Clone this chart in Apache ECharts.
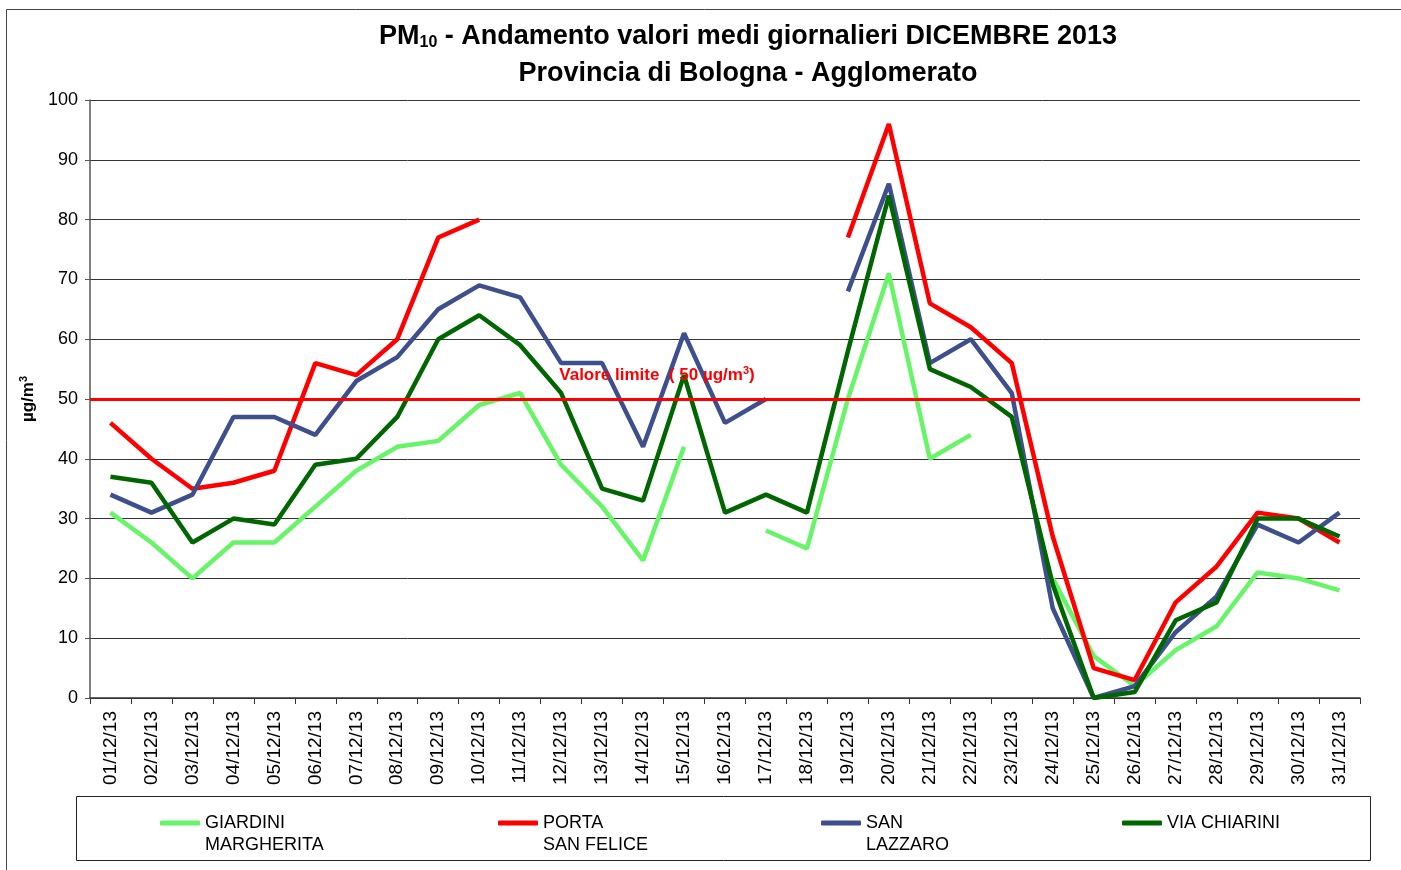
<!DOCTYPE html>
<html>
<head>
<meta charset="utf-8">
<script src="https://cdn.jsdelivr.net/npm/echarts@6/dist/echarts.min.js"></script>
<style>
html,body{margin:0;padding:0;background:#fff;}
#main{width:1401px;height:870px;}
</style>
</head>
<body>
<div id="main"></div>
<script>
var days = ['01/12/13','02/12/13','03/12/13','04/12/13','05/12/13','06/12/13','07/12/13','08/12/13','09/12/13','10/12/13',
    '11/12/13','12/12/13','13/12/13','14/12/13','15/12/13','16/12/13','17/12/13','18/12/13','19/12/13','20/12/13',
    '21/12/13','22/12/13','23/12/13','24/12/13','25/12/13','26/12/13','27/12/13','28/12/13','29/12/13','30/12/13','31/12/13'];
var giardini = [31,26,20,26,26,32,38,42,43,49,51,39,32,23,42,null,28,25,50,71,40,44,null,20,7,2,8,12,21,20,18];
var portaSanFelice = [46,40,35,36,38,56,54,60,77,80,null,null,null,null,null,null,null,null,77,96,66,62,56,27,5,3,16,22,31,30,26];
var sanLazzaro = [34,31,34,47,47,44,53,57,65,69,67,56,56,42,61,46,50,null,68,86,56,60,51,15,0,2,11,17,29,26,31];
var viaChiarini = [37,36,26,30,29,39,40,47,60,64,59,51,35,33,54,31,34,31,58,84,55,52,47,19,0,1,13,16,30,30,27];
var limite = 50;
var yTicks = [0,10,20,30,40,50,60,70,80,90,100];

var myChart = echarts.init(document.getElementById('main'));
var font = 'Liberation Sans, Arial, sans-serif';

function linea(nome, dati, colore){
    return {
        name: nome,
        type: 'line',
        data: dati,
        symbol: 'none',
        connectNulls: false,
        lineStyle: {color: colore, width: 4.5},
        itemStyle: {color: colore}
    };
}

var series = [
    linea('GIARDINI\nMARGHERITA', giardini, '#66f566'),
    linea('PORTA\nSAN FELICE', portaSanFelice, '#ff0000'),
    linea('SAN\nLAZZARO', sanLazzaro, '#3d4f8c'),
    linea('VIA CHIARINI', viaChiarini, '#006600')
];
// linea del valore limite
series[1].markLine = {
    silent: true,
    symbol: 'none',
    lineStyle: {color: '#ff0000', width: 3, type: 'solid'},
    label: {
        position: 'insideMiddleTop',
        offset: [-68, -9],
        formatter: '{t|Valore limite  ( 50 µg/m}{p|3}{t|)}',
        rich: {
            t: {color: '#ff0000', fontWeight: 'bold', fontSize: 17, fontFamily: font},
            p: {color: '#ff0000', fontWeight: 'bold', fontSize: 11, fontFamily: font, padding: [0, 0, 9, 0]}
        }
    },
    data: [{yAxis: limite}]
};

// una legenda per voce, il testo a due righe parte dall'altezza del simbolo
var legendLeft = [155, 493, 816, 1117];
var legends = series.map(function(s, i){
    return {
        left: legendLeft[i],
        top: 785,
        itemWidth: 40,
        itemHeight: 5,
        icon: 'roundRect',
        formatter: function(name){ return name.indexOf('\n') >= 0 ? '\n' + name : name; },
        textStyle: {fontSize: 18, color: '#000', fontFamily: font, lineHeight: 22},
        data: [s.name]
    };
});
legends[3].top = 807;

myChart.setOption({
    animation: false,
    textStyle: {fontFamily: font},
    title: {
        text: '{b|PM}{s|10}{b| - Andamento valori medi giornalieri DICEMBRE 2013}\n{b|Provincia di Bologna - Agglomerato}',
        left: 743,
        top: 13,
        textAlign: 'center',
        textStyle: {
            rich: {
                b: {fontSize: 27, fontWeight: 'bold', color: '#000', fontFamily: font, lineHeight: 37},
                s: {fontSize: 16, fontWeight: 'bold', color: '#000', fontFamily: font, padding: [12, 0, 0, 0], lineHeight: 37}
            }
        }
    },
    legend: legends,
    graphic: [
        {type: 'rect', shape: {x: 6.5, y: 9.5, width: 1420, height: 880}, style: {fill: null, stroke: '#444', lineWidth: 1}, silent: true},
        {type: 'rect', shape: {x: 76.5, y: 796.5, width: 1294, height: 64}, style: {fill: null, stroke: '#222', lineWidth: 1}, silent: true}
    ],
    grid: {left: 90, right: 41, top: 100, bottom: 172},
    xAxis: {
        type: 'category',
        data: days,
        boundaryGap: true,
        axisLine: {lineStyle: {color: '#333', width: 1.5}},
        axisTick: {show: true, length: 6, lineStyle: {color: '#333'}},
        axisLabel: {rotate: 90, fontSize: 19, color: '#000', margin: 13, interval: 0}
    },
    yAxis: {
        type: 'value',
        min: yTicks[0],
        max: yTicks[yTicks.length - 1],
        interval: 10,
        name: '{n|µg/m}{p|3}',
        nameLocation: 'middle',
        nameGap: 50,
        nameTextStyle: {
            rich: {
                n: {fontSize: 17, fontWeight: 'bold', color: '#000', fontFamily: font},
                p: {fontSize: 11, fontWeight: 'bold', color: '#000', fontFamily: font, padding: [0, 0, 9, 0]}
            }
        },
        axisLine: {show: true, lineStyle: {color: '#555', width: 1.5}},
        axisTick: {show: true, length: 5, lineStyle: {color: '#555'}},
        axisLabel: {fontSize: 18, color: '#000', margin: 12},
        splitLine: {lineStyle: {color: '#333', width: 1}}
    },
    series: series
});
</script>
</body>
</html>
